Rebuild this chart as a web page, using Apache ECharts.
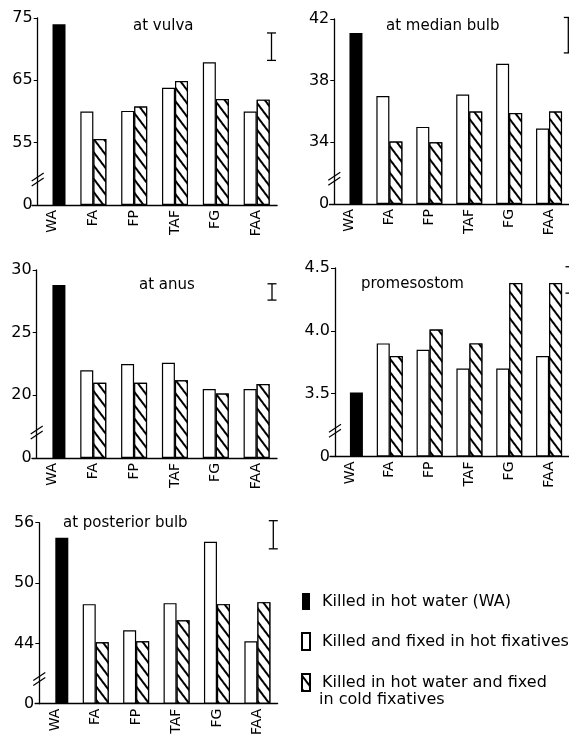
<!DOCTYPE html>
<html>
<head>
<meta charset="utf-8">
<script src="https://cdn.jsdelivr.net/npm/echarts@6/dist/echarts.min.js"></script>
<style>
  html, body { margin: 0; padding: 0; background: #fff; }
  #chart { width: 569px; height: 738px; }
</style>
</head>
<body>
<div id="chart"></div>
<script>
const categories = ['WA', 'FA', 'FP', 'TAF', 'FG', 'FAA'];
const panelTitles = ['at vulva', 'at median bulb', 'at anus', 'promesostom', 'at posterior bulb'];

// killed in hot water (WA), one value per panel
const hotWater = [74, 41.1, 28.8, 3.51, 54.5];
// FA, FP, TAF, FG, FAA
const vulvaHot = [60, 60.1, 63.8, 67.9, 60];
const vulvaCold = [55.6, 60.8, 64.9, 62, 61.9];
const medianHot = [37, 35, 37.1, 39.1, 34.9];
const medianCold = [34.05, 34, 36, 35.9, 36];
const anusHot = [22, 22.5, 22.6, 20.5, 20.5];
const anusCold = [21, 21, 21.2, 20.15, 20.9];
const promHot = [3.9, 3.85, 3.7, 3.7, 3.8];
const promCold = [3.8, 4.01, 3.9, 4.38, 4.38];
const postHot = [47.9, 45.3, 48, 54.1, 44.2];
const postCold = [44.1, 44.2, 46.3, 47.9, 48.1];

// broken y axis: value sitting at the "0" line, tick step, top value
const axisBreak = [45, 30, 15, 3.0, 38];
const axisStep = [10, 4, 5, 0.5, 6];
const axisTop = [75, 42, 30, 4.5, 56];
const tickDecimals = [0, 0, 0, 1, 0];

// scale bars in the top right corner of each panel
const scaleBarTop = [72.6, 42.1, 28.9, 4.51, 56.2];
const scaleBarBottom = [68.2, 39.8, 27.6, 4.30, 53.4];

const hotSets = [vulvaHot, medianHot, anusHot, promHot, postHot];
const coldSets = [vulvaCold, medianCold, anusCold, promCold, postCold];

const NAME_WA = 'Killed in hot water (WA)';
const NAME_HOT = 'Killed and fixed in hot fixatives';
const NAME_COLD = 'Killed in hot water and fixed in cold fixatives';

// layout
const grids = [
  { left: 32.1, top: 18, width: 245, height: 187 },
  { left: 329.5, top: 19, width: 245, height: 185 },
  { left: 32, top: 270, width: 245, height: 188 },
  { left: 330, top: 268, width: 245, height: 188.5 },
  { left: 35.1, top: 522.7, width: 242.5, height: 186 }
];
const yOffset = [-5.6, -4.8, -4.7, -5, -4.2];
const titlePos = [[133, 19], [386, 18.5], [139, 278], [361, 277], [63, 515.5]];
const scaleBarX = [271.5, 568.3, 272, 570, 273.3];

const FONT = 'DejaVu Sans';
const hatch = {
  symbol: 'rect',
  symbolSize: 1,
  dashArrayX: [1, 0],
  dashArrayY: [1.2, 5.4],
  rotation: Math.PI / 3.4,
  color: '#000',
  backgroundColor: '#fff'
};

const chart = echarts.init(document.getElementById('chart'), null, { renderer: 'canvas' });

const xAxes = [], yAxes = [], series = [], titles = [];
grids.forEach(function (g, i) {
  const base = axisBreak[i];
  xAxes.push({
    type: 'category', gridIndex: i, data: categories,
    axisLine: { lineStyle: { color: '#000', width: 1.3 } },
    axisTick: { show: false },
    axisLabel: { rotate: 90, interval: 0, margin: 5, color: '#000', fontSize: 14, fontFamily: FONT }
  });
  yAxes.push({
    type: 'value', gridIndex: i, min: 0, max: axisTop[i] - base, interval: axisStep[i],
    offset: yOffset[i],
    axisLine: { show: true, lineStyle: { color: '#000', width: 1.3 } },
    axisTick: { show: true, length: 4, lineStyle: { color: '#000' } },
    splitLine: { show: false },
    axisLabel: {
      color: '#000', fontSize: 16, fontFamily: FONT, margin: 5,
      formatter: function (v) { return v === 0 ? '0' : (v + base).toFixed(tickDecimals[i]); }
    }
  });
  series.push({
    name: NAME_HOT, type: 'bar', xAxisIndex: i, yAxisIndex: i,
    barWidth: 13, barGap: '0%',
    itemStyle: { color: '#fff', borderColor: '#000', borderWidth: 1.2 },
    data: [null].concat(hotSets[i].map(function (v) { return v - base; }))
  });
  series.push({
    name: NAME_WA, type: 'bar', xAxisIndex: i, yAxisIndex: i, stack: 'r' + i,
    barWidth: 13, barGap: '0%',
    itemStyle: { color: '#000' },
    data: [hotWater[i] - base, null, null, null, null, null]
  });
  series.push({
    name: NAME_COLD, type: 'bar', xAxisIndex: i, yAxisIndex: i, stack: 'r' + i,
    barWidth: 13, barGap: '0%',
    itemStyle: { color: '#fff', borderColor: '#000', borderWidth: 1.2, decal: hatch },
    data: [null].concat(coldSets[i].map(function (v) { return v - base; }))
  });
  titles.push({
    text: panelTitles[i], left: titlePos[i][0], top: titlePos[i][1], padding: 0,
    textStyle: { color: '#000', fontSize: 15, fontWeight: 'normal', fontFamily: FONT }
  });
});

chart.setOption({
  animation: false,
  backgroundColor: '#fff',
  title: titles,
  grid: grids,
  xAxis: xAxes,
  yAxis: yAxes,
  legend: {
    orient: 'vertical', left: 296, top: 588, icon: 'rect',
    itemWidth: 8, itemHeight: 17, itemGap: 22,
    data: [NAME_WA, NAME_HOT, NAME_COLD],
    formatter: function (n) { return n === NAME_COLD ? 'Killed in hot water and fixed' : n; },
    textStyle: { color: '#000', fontSize: 16, fontFamily: FONT, padding: [0, 0, 0, 7] }
  },
  series: series
});

// break marks and scale bars
const gfx = [];
grids.forEach(function (g, i) {
  const ax = g.left - yOffset[i];
  const yb = chart.convertToPixel({ yAxisIndex: i }, axisStep[i] * 0.4);
  [-3, 2].forEach(function (d) {
    gfx.push({ type: 'line', shape: { x1: ax - 6, y1: yb + d + 4, x2: ax + 6, y2: yb + d - 4 },
      style: { stroke: '#000', lineWidth: 1.2 } });
  });
  const base = axisBreak[i];
  const yt = chart.convertToPixel({ yAxisIndex: i }, scaleBarTop[i] - base);
  const ybt = chart.convertToPixel({ yAxisIndex: i }, scaleBarBottom[i] - base);
  const x = scaleBarX[i];
  gfx.push({ type: 'line', shape: { x1: x, y1: yt, x2: x, y2: ybt }, style: { stroke: '#000', lineWidth: 1.3 } });
  gfx.push({ type: 'line', shape: { x1: x - 4.5, y1: yt, x2: x + 4.5, y2: yt }, style: { stroke: '#000', lineWidth: 1.3 } });
  gfx.push({ type: 'line', shape: { x1: x - 4.5, y1: ybt, x2: x + 4.5, y2: ybt }, style: { stroke: '#000', lineWidth: 1.3 } });
});
gfx.push({ type: 'text', left: 319, top: 692,
  style: { text: 'in cold fixatives', font: '16px "DejaVu Sans"', fill: '#000' } });
chart.setOption({ graphic: gfx });
</script>
</body>
</html>
